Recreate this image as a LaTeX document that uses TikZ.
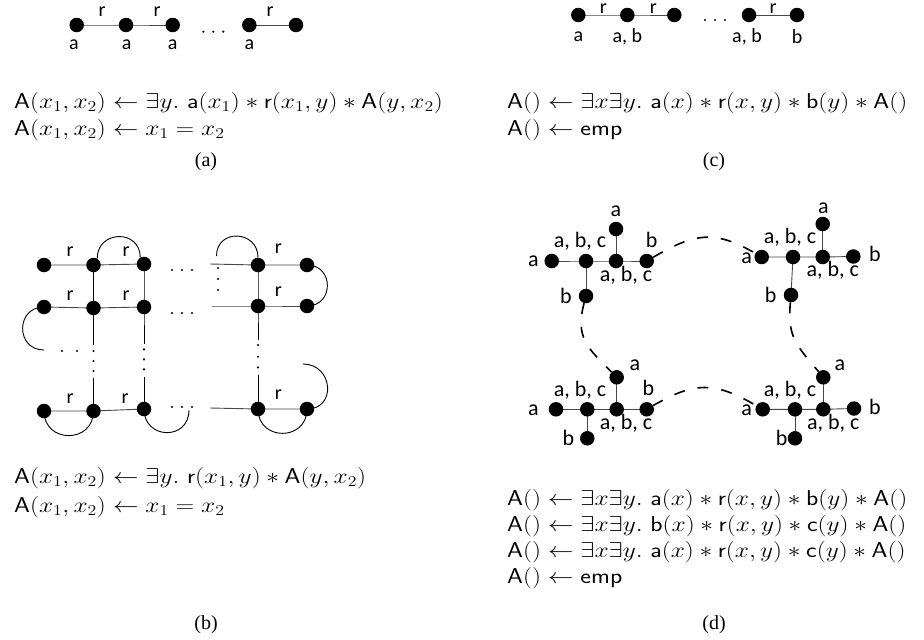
\documentclass[tikz,border=0pt]{standalone}
\usepackage{fix-cm}
\usepackage{graphicx}
\usepackage{fontspec}
\newfontfamily\labfont{Carlito}
\newfontfamily\capfont{Liberation Serif}
\usetikzlibrary{backgrounds}
\newcommand{\fm}[1]{\scalebox{1.18}[1]{$#1$}}
\tikzset{
  dot/.style={circle, fill=black, inner sep=0pt, minimum size=14.5pt},
  sdot/.style={circle, fill=black, inner sep=0pt, minimum size=2.4pt},
  edge/.style={line width=0.9pt, black!72},
  arcl/.style={line width=0.9pt, black},
  lab/.style={font=\labfont\fontsize{20}{24}\selectfont, inner sep=0pt},
  dlab/.style={font=\labfont\fontsize{22}{26}\selectfont, inner sep=0pt},
  fml/.style={font=\fontsize{21.5}{26}\selectfont, anchor=west, inner sep=0pt},
  capt/.style={font=\capfont\fontsize{20}{24}\selectfont, inner sep=0pt},
  dsh/.style={line width=1.6pt, dash pattern=on 11pt off 13pt},
}
\begin{document}
\begin{tikzpicture}[x=1pt,y=1pt]
\useasboundingbox (0,0) rectangle (924,-640);
% ---------------- (a)
\node[dot] (a1) at (76.7,-25) {};
\node[dot] (a2) at (126,-25) {};
\node[dot] (a3) at (172.7,-25) {};
\node[dot] (a4) at (249.3,-25) {};
\node[dot] (a5) at (296,-25) {};
\node[lab] (ar1) at (102,-12) {r};
\node[lab] (ar2) at (157,-12) {r};
\node[lab] (ar3) at (270,-12) {r};
\node[lab] (al1) at (74,-45) {a};
\node[lab] (al2) at (126.7,-45) {a};
\node[lab] (al3) at (172.7,-45) {a};
\node[lab] (al4) at (249.3,-45) {a};
\node[sdot] (ad1) at (203.3,-31.7) {};
\node[sdot] (ad2) at (213.3,-31.7) {};
\node[sdot] (ad3) at (223.3,-31.7) {};
\node[fml] (af1) at (14,-103) {\fm{\mathsf{A}(x_1,x_2)\leftarrow\exists y.\ \mathsf{a}(x_1)\ast\mathsf{r}(x_1,y)\ast\mathsf{A}(y,x_2)}};
\node[fml] (af2) at (14,-130) {\fm{\mathsf{A}(x_1,x_2)\leftarrow x_1=x_2}};
\node[capt] (acap) at (206,-162) {(a)};
% ---------------- (c)
\node[dot] (c1) at (578.3,-15) {};
\node[dot] (c2) at (627.3,-15) {};
\node[dot] (c3) at (674.3,-15) {};
\node[dot] (c4) at (749,-15) {};
\node[dot] (c5) at (797,-15) {};
\node[lab] (cr1) at (603.3,-8.5) {r};
\node[lab] (cr2) at (653.3,-8.5) {r};
\node[lab] (cr3) at (773,-8.5) {r};
\node[lab] (cl1) at (578.3,-36.7) {a};
\node[lab] (cl2) at (627.3,-36.7) {a, b};
\node[lab] (cl3) at (747,-36.7) {a, b};
\node[lab] (cl4) at (797,-36.7) {b};
\node[sdot] (cd1) at (705,-20) {};
\node[sdot] (cd2) at (715,-20) {};
\node[sdot] (cd3) at (725,-20) {};
\node[fml] (cf1) at (507,-103) {\fm{\mathsf{A}()\leftarrow\exists x\exists y.\ \mathsf{a}(x)\ast\mathsf{r}(x,y)\ast\mathsf{b}(y)\ast\mathsf{A}()}};
\node[fml] (cf2) at (507,-130) {\fm{\mathsf{A}()\leftarrow\mathsf{emp}}};
\node[capt] (ccap) at (714,-162) {(c)};
% ---------------- (b) grid
\node[dot] (g11) at (44,-265) {};
\node[dot] (g12) at (93.5,-265) {};
\node[dot] (g13) at (144,-264) {};
\node[dot] (g14) at (258,-265) {};
\node[dot] (g15) at (307,-265) {};
\node[dot] (g21) at (44,-307) {};
\node[dot] (g22) at (93.5,-308) {};
\node[dot] (g23) at (144,-307) {};
\node[dot] (g24) at (258,-306) {};
\node[dot] (g25) at (307,-306) {};
\node[dot] (g31) at (44,-411) {};
\node[dot] (g32) at (93.5,-411) {};
\node[dot] (g33) at (144,-409) {};
\node[dot] (g34) at (258,-409) {};
\node[dot] (g35) at (307,-409) {};
\coordinate (s1) at (210,-264);
\coordinate (s2) at (212,-306);
\coordinate (s3) at (210,-408);
\coordinate (v2a) at (93.5,-345);
\coordinate (v2b) at (93.5,-378);
\coordinate (v3a) at (144,-344);
\coordinate (v3b) at (144,-377);
\coordinate (v4a) at (258,-340);
\coordinate (v4b) at (258,-375);
\coordinate (f1) at (216.5,-256);
\coordinate (f2) at (44,-350);
\coordinate (f3) at (189,-410);
\coordinate (f4) at (303,-364);
\node[lab] (gr1) at (70,-251.7) {r};
\node[lab] (gr2) at (126,-251.7) {r};
\node[lab] (gr3) at (278.3,-248.3) {r};
\node[lab] (gr4) at (70,-296) {r};
\node[lab] (gr5) at (126,-296) {r};
\node[lab] (gr6) at (278.3,-291.7) {r};
\node[lab] (gr7) at (70,-398.3) {r};
\node[lab] (gr8) at (125,-398.3) {r};
\node[lab] (gr9) at (278.3,-395) {r};
\foreach \x/\n in {172/1,182/2,192/3}{
  \node[sdot] (hA\n) at (\x,-270) {};
  \node[sdot] (hB\n) at (\x,-313) {};
  \node[sdot] (hC\n) at (\x,-407) {};
}
\node[sdot] (hL1) at (62,-351) {};
\node[sdot] (hL2) at (77,-351) {};
\foreach \y/\n in {351/1,361/2,371/3}{\node[sdot] (vB\n) at (93.5,-\y) {};}
\foreach \y/\n in {349.3/1,359.3/2,369.3/3}{\node[sdot] (vC\n) at (144,-\y) {};}
\foreach \y/\n in {345/1,356.7/2,367.3/3}{\node[sdot] (vD\n) at (258,-\y) {};}
\foreach \y/\n in {268/1,279/2,290/3}{\node[sdot] (vE\n) at (218,-\y) {};}
\node[fml] (bf1) at (14,-478) {\fm{\mathsf{A}(x_1,x_2)\leftarrow\exists y.\ \mathsf{r}(x_1,y)\ast\mathsf{A}(y,x_2)}};
\node[fml] (bf2) at (14,-507) {\fm{\mathsf{A}(x_1,x_2)\leftarrow x_1=x_2}};
\node[capt] (bcap) at (206,-625) {(b)};
% ---------------- (d)
\node[dot] (UL1) at (551.7,-261) {};
\node[dot] (UL2) at (586,-261) {};
\node[dot] (UL3) at (616,-261) {};
\node[dot] (UL4) at (646.7,-261) {};
\node[dot] (UL5) at (616,-229) {};
\node[dot] (UL6) at (586,-296) {};
\node[dlab] (ULa) at (533.3,-261.7) {a};
\node[dlab] (ULb) at (580,-241.7) {a, b, c};
\node[dlab] (ULc) at (616,-211.7) {a};
\node[dlab] (ULd) at (651.7,-240) {b};
\node[dlab] (ULe) at (626,-275) {a, b, c};
\node[dlab] (ULf) at (566,-296) {b};
\node[dot] (UR1) at (761.7,-257) {};
\node[dot] (UR2) at (793,-257) {};
\node[dot] (UR3) at (822.7,-257) {};
\node[dot] (UR4) at (853.3,-256.5) {};
\node[dot] (UR5) at (822.7,-224) {};
\node[dot] (UR6) at (791,-295) {};
\node[dlab] (URa) at (746.7,-258.3) {a};
\node[dlab] (URb) at (790,-237.3) {a, b, c};
\node[dlab] (URc) at (823.3,-208.3) {a};
\node[dlab] (URd) at (875,-254) {b};
\node[dlab] (URe) at (832.7,-270) {a, b, c};
\node[dlab] (URf) at (770.7,-295) {b};
\node[dot] (LL1) at (556,-409.3) {};
\node[dot] (LL2) at (587.3,-409.3) {};
\node[dot] (LL3) at (616.7,-409.3) {};
\node[dot] (LL4) at (646.7,-409.3) {};
\node[dot] (LL5) at (616.7,-377.3) {};
\node[dot] (LL6) at (587.3,-438.3) {};
\node[dlab] (LLa) at (533.3,-410.7) {a};
\node[dlab] (LLb) at (580,-390) {a, b, c};
\node[dlab] (LLc) at (635,-365) {a};
\node[dlab] (LLd) at (648.3,-388.3) {b};
\node[dlab] (LLe) at (626,-423.3) {a, b, c};
\node[dlab] (LLf) at (568.3,-438.3) {b};
\node[dot] (LR1) at (762.7,-409.3) {};
\node[dot] (LR2) at (795,-409.3) {};
\node[dot] (LR3) at (823.3,-409.3) {};
\node[dot] (LR4) at (854,-408.5) {};
\node[dot] (LR5) at (823.3,-377.3) {};
\node[dot] (LR6) at (795,-438.3) {};
\node[dlab] (LRa) at (746.7,-410) {a};
\node[dlab] (LRb) at (790,-390) {a, b, c};
\node[dlab] (LRc) at (840,-365) {a};
\node[dlab] (LRd) at (875,-407.3) {b};
\node[dlab] (LRe) at (833.3,-423.3) {a, b, c};
\node[dlab] (LRf) at (781.7,-438.3) {b};
\node[fml] (df1) at (507,-500) {\fm{\mathsf{A}()\leftarrow\exists x\exists y.\ \mathsf{a}(x)\ast\mathsf{r}(x,y)\ast\mathsf{b}(y)\ast\mathsf{A}()}};
\node[fml] (df2) at (507,-526) {\fm{\mathsf{A}()\leftarrow\exists x\exists y.\ \mathsf{b}(x)\ast\mathsf{r}(x,y)\ast\mathsf{c}(y)\ast\mathsf{A}()}};
\node[fml] (df3) at (507,-552) {\fm{\mathsf{A}()\leftarrow\exists x\exists y.\ \mathsf{a}(x)\ast\mathsf{r}(x,y)\ast\mathsf{c}(y)\ast\mathsf{A}()}};
\node[fml] (df4) at (507,-578) {\fm{\mathsf{A}()\leftarrow\mathsf{emp}}};
\node[capt] (dcap) at (714,-625) {(d)};
% ---------------- connectors (behind)
\begin{scope}[on background layer]
\fill[white] (0,0) rectangle (924,-640);
\draw[edge] (a1.center) -- (a2.center) -- (a3.center);
\draw[edge] (a4.center) -- (a5.center);
\draw[edge] (c1.center) -- (c2.center) -- (c3.center);
\draw[edge] (c4.center) -- (c5.center);
\draw[edge] (g11.center) -- (g12.center) -- (g13.center);
\draw[edge] (s1) -- (g14.center) -- (g15.center);
\draw[edge] (g21.center) -- (g22.center) -- (g23.center);
\draw[edge] (s2) -- (g24.center) -- (g25.center);
\draw[edge] (g31.center) -- (g32.center) -- (g33.center);
\draw[edge] (s3) -- (g34.center) -- (g35.center);
\draw[arcl] (g12.center) -- (g22.center) -- (v2a);
\draw[arcl] (v2b) -- (g32.center);
\draw[arcl] (g13.center) -- (g23.center) -- (v3a);
\draw[arcl] (v3b) -- (g33.center);
\draw[arcl] (g14.center) -- (g24.center) -- (v4a);
\draw[arcl] (v4b) -- (g34.center);
\draw[arcl] (g12.60) to[out=90,in=90,looseness=1.7] (g13.120);
\draw[arcl] (f1) to[out=90,in=90,looseness=1.7] (g14.north);
\draw[arcl] (g15.center) to[out=0,in=0,looseness=1.7] (g25.center);
\draw[arcl] (g21.center) to[out=180,in=180,looseness=1.7] (f2);
\draw[arcl] (g31.center) to[out=-90,in=-90,looseness=1.7] (g32.center);
\draw[arcl] (g33.center) to[out=-90,in=-90,looseness=1.75] (f3);
\draw[arcl] (g34.center) to[out=-90,in=-90,looseness=1.7] (g35.center);
\draw[arcl] (f4) to[out=0,in=0,looseness=1.7] (g35.center);
\foreach \c in {UL,UR,LL,LR}{
  \draw[edge] (\c1.center) -- (\c2.center) -- (\c3.center) -- (\c4.center);
  \draw[edge] (\c3.center) -- (\c5.center);
  \draw[edge] (\c2.center) -- (\c6.center);
}
\end{scope}
\draw[dsh] (UL4) to[out=30,in=150,looseness=1.2] (UR1);
\draw[dsh] (LL4) to[out=30,in=150,looseness=1.2] (LR1);
\draw[dsh] (UL6) to[out=-105,in=135,looseness=1.2] (LL5);
\draw[dsh] (UR6) to[out=-95,in=130,looseness=1.2] (LR5);
\end{tikzpicture}
\end{document}
